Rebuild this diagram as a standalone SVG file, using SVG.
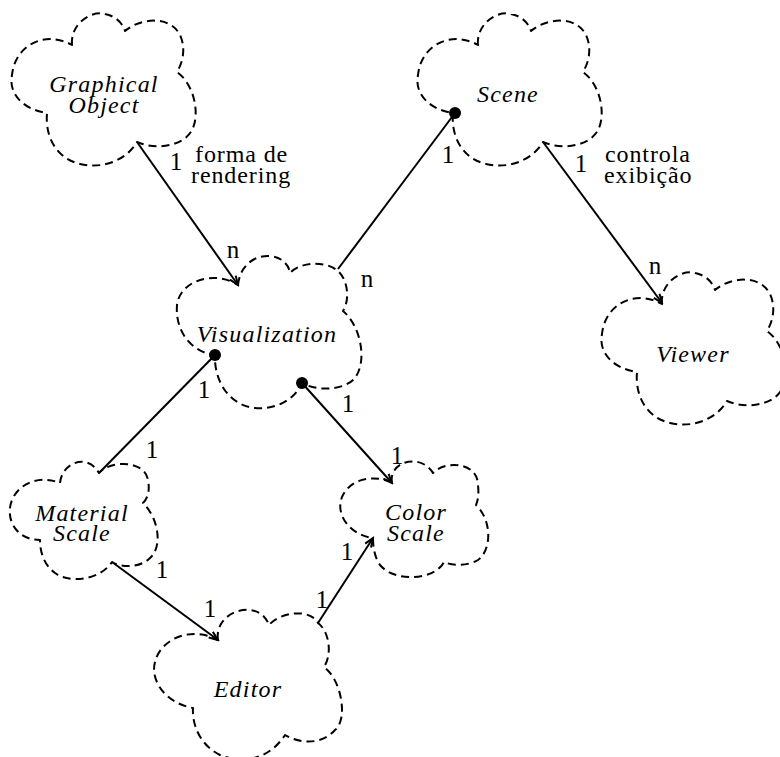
<svg xmlns="http://www.w3.org/2000/svg" xmlns:xlink="http://www.w3.org/1999/xlink" width="780" height="757" viewBox="0 0 780 757">
  <style>
    .cloud { fill: none; stroke: #000; stroke-width: 2; stroke-dasharray: 8 5; stroke-linejoin: round; }
    .edge { fill: none; stroke: #000; stroke-width: 2; }
    .dot { fill: #000; }
    text { font-family: 'Liberation Serif', 'Times New Roman', Times, serif; fill: #000; }
    .name { font-style: italic; font-size: 24px; letter-spacing: 1.2px; text-anchor: middle; }
    .card { font-size: 25px; text-anchor: middle; }
    .role { font-size: 24px; letter-spacing: 0.9px; }
  </style>
  <defs>
    <!-- five-lobed cloud outline, reused by several classes -->
    <path id="cloud5" d="M72,45 C70,25 90,10 105,14 C115,16 122,22 125,31 C140,18 170,15 180,35 C186,48 183,62 177,72 C195,85 200,115 192,130 C183,147 155,150 137,142 C128,158 105,170 80,164 C55,158 45,135 47,113 C25,110 8,95 12,75 C15,45 45,30 72,45 Z"/>
    <marker id="arrow" markerUnits="userSpaceOnUse" markerWidth="14" markerHeight="14" viewBox="-12 -7 14 14" refX="0" refY="0" orient="auto">
      <path d="M-9,-3.5 L0,0 L-9,3.5" fill="none" stroke="#000" stroke-width="2"/>
    </marker>
  </defs>

  <g id="node-graphical-object">
    <use xlink:href="#cloud5" class="cloud"/>
    <text class="name" x="104" y="92">Graphical</text>
    <text class="name" x="104" y="113">Object</text>
  </g>

  <g id="node-scene">
    <use xlink:href="#cloud5" class="cloud" transform="translate(406,0)"/>
    <text class="name" x="508" y="102">Scene</text>
  </g>

  <g id="node-viewer">
    <use xlink:href="#cloud5" class="cloud" transform="translate(590,259)"/>
    <text class="name" x="693" y="362">Viewer</text>
  </g>

  <g id="node-visualization">
    <path class="cloud" d="M238,285 C240,265 255,255 270,256 C282,257 289,265 290,273 C300,262 325,260 338,271 C348,280 350,300 343,311 C360,325 368,360 355,378 C345,390 318,392 302,383 C295,400 275,410 255,408 C228,405 214,380 215,355 C190,352 175,330 177,305 C180,280 215,270 238,285 Z"/>
    <text class="name" x="267" y="342">Visualization</text>
  </g>

  <g id="node-material-scale">
    <path class="cloud" d="M60,483 C62,462 88,453 99,473 C110,460 145,460 148,480 C150,490 148,498 143,503 C160,520 162,548 150,558 C140,568 122,568 112,562 C100,580 70,584 55,573 C44,565 40,552 40,540 C20,540 8,525 10,508 C12,488 35,473 60,483 Z"/>
    <text class="name" x="82" y="521">Material</text>
    <text class="name" x="82" y="541">Scale</text>
  </g>

  <g id="node-color-scale">
    <path class="cloud" d="M392,483 C388,462 420,452 433,473 C445,460 478,462 478,485 C479,495 478,500 476,505 C492,520 492,550 478,560 C468,566 453,566 444,562 C435,580 395,583 380,565 C375,558 373,548 373,538 C350,535 335,515 342,497 C350,478 375,474 392,483 Z"/>
    <text class="name" x="416" y="520">Color</text>
    <text class="name" x="416" y="541">Scale</text>
  </g>

  <g id="node-editor">
    <path class="cloud" d="M218,640 C215,620 235,608 250,610 C260,611 266,617 269,625 C280,612 310,608 318,623 C330,632 332,655 324,667 C342,680 348,720 335,730 C322,745 300,744 285,735 C270,758 245,765 220,755 C200,745 192,725 193,708 C165,703 150,680 155,662 C160,640 190,625 218,640 Z"/>
    <text class="name" x="248" y="697">Editor</text>
  </g>

  <g id="connectors">
    <!-- Graphical Object -> Visualization -->
    <line class="edge" x1="137" y1="142" x2="238" y2="285" marker-end="url(#arrow)"/>
    <!-- Visualization -> Scene (aggregation dot) -->
    <line class="edge" x1="338" y1="269" x2="455" y2="113"/>
    <circle class="dot" cx="455" cy="113" r="6"/>
    <!-- Scene -> Viewer -->
    <line class="edge" x1="543" y1="142" x2="662" y2="303" marker-end="url(#arrow)"/>
    <!-- Visualization dot -> Material Scale -->
    <line class="edge" x1="215" y1="355" x2="100" y2="472"/>
    <circle class="dot" cx="215" cy="355" r="6"/>
    <!-- Visualization dot -> Color Scale -->
    <line class="edge" x1="302" y1="383" x2="392" y2="483" marker-end="url(#arrow)"/>
    <circle class="dot" cx="302" cy="383" r="6"/>
    <!-- Material Scale -> Editor -->
    <line class="edge" x1="112" y1="562" x2="218" y2="640" marker-end="url(#arrow)"/>
    <!-- Editor -> Color Scale -->
    <line class="edge" x1="318" y1="623" x2="373" y2="538" marker-end="url(#arrow)"/>

    <!-- multiplicities and role names -->
    <text class="card" x="176" y="170">1</text>
    <text class="role" x="195" y="162">forma de</text>
    <text class="role" x="191" y="183">rendering</text>
    <text class="card" x="233" y="258">n</text>
    <text class="card" x="367" y="287">n</text>
    <text class="card" x="448" y="163">1</text>
    <text class="card" x="581" y="172">1</text>
    <text class="role" x="605" y="162">controla</text>
    <text class="role" x="604" y="183">exibição</text>
    <text class="card" x="655" y="274">n</text>
    <text class="card" x="204" y="398">1</text>
    <text class="card" x="348" y="412">1</text>
    <text class="card" x="152" y="458">1</text>
    <text class="card" x="162" y="578">1</text>
    <text class="card" x="397" y="464">1</text>
    <text class="card" x="347" y="560">1</text>
    <text class="card" x="210" y="617">1</text>
    <text class="card" x="322" y="608">1</text>
  </g>
</svg>
